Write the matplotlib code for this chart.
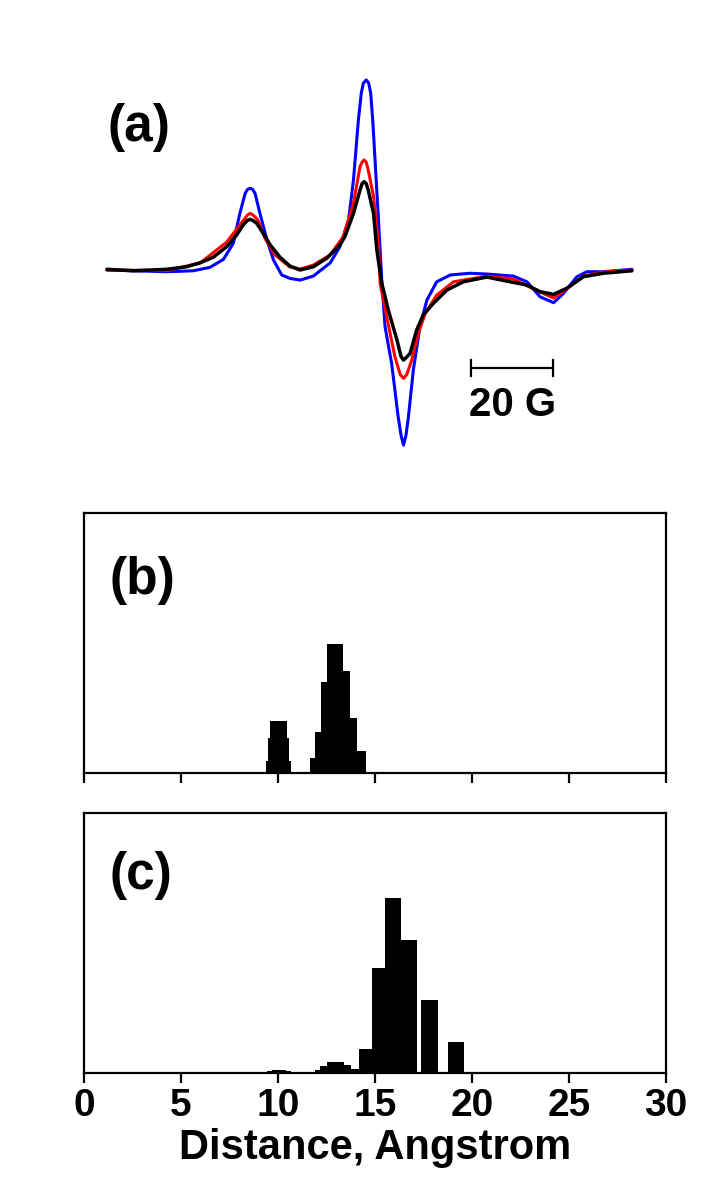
import numpy as np
import matplotlib
matplotlib.use("Agg")
import matplotlib.pyplot as plt

plt.rcParams['font.family'] = ['Liberation Sans', 'DejaVu Sans']
plt.rcParams['font.weight'] = 'bold'

# (a) EPR spectra: field offset (G) and normalised amplitude
field_blue = [0, 14.6, 21.0, 25.1, 28.4, 30.8, 32.4, 33.7, 34.3, 34.9, 35.5, 36.1, 37.3, 39.0, 40.6,
              42.6, 44.6, 47.1, 50.3, 54.4, 56.8, 58.9, 60.1, 61.3, 62.0, 62.5, 63.2, 63.8, 64.3,
              64.8, 65.5, 66.2, 67.0, 67.8, 69.4, 71.0, 71.7, 72.3, 72.9, 73.5, 74.7, 76.3, 78.0,
              80.4, 83.7, 88.5, 92.6, 99.1, 102.4, 105.6, 108.9, 111.3, 114.6, 117.0, 121.0, 128.0]
amp_blue = [0, -0.009, -0.004, 0.014, 0.056, 0.141, 0.298, 0.404, 0.425, 0.430, 0.425, 0.404, 0.298,
            0.158, 0.053, -0.026, -0.044, -0.053, -0.032, 0.037, 0.123, 0.263, 0.474, 0.789, 0.93,
            0.983, 1.0, 0.985, 0.93, 0.789, 0.526, 0.263, -0.053, -0.298, -0.491, -0.772, -0.87,
            -0.921, -0.87, -0.772, -0.526, -0.298, -0.158, -0.062, -0.026, -0.017, -0.021, -0.032,
            -0.062, -0.141, -0.172, -0.123, -0.035, -0.009, -0.009, 0.004]

field_red = [0, 14.6, 22.7, 29.2, 32.4, 34.3, 34.9, 35.6, 36.8, 38.5, 41.0, 44.6, 47.1, 50.3, 54.4,
             57.6, 60.1, 61.7, 62.2, 62.7, 63.2, 63.7, 65.0, 66.2, 66.6, 68.2, 70.2, 71.5, 72.3,
             73.1, 74.3, 75.9, 77.6, 80.4, 84.5, 92.6, 99.0, 105.6, 108.9, 112.1, 116.2, 121.0, 128.0]
amp_red = [0, -0.003, 0.037, 0.147, 0.237, 0.29, 0.298, 0.29, 0.263, 0.168, 0.079, 0.016, 0.005, 0.026,
           0.079, 0.175, 0.351, 0.544, 0.568, 0.579, 0.568, 0.526, 0.386, 0.141, -0.070, -0.246,
           -0.456, -0.55, -0.570, -0.55, -0.474, -0.333, -0.228, -0.132, -0.062, -0.032, -0.047,
           -0.116, -0.147, -0.100, -0.032, -0.011, 0.0]

field_black = [0, 6.5, 14.6, 19.4, 22.7, 25.9, 29.2, 31.6, 33.2, 34.2, 34.9, 35.6, 36.5, 38.1, 39.8,
               42.2, 44.6, 47.1, 50.3, 53.6, 56.8, 58.0, 60.1, 61.7, 62.2, 62.7, 63.2, 63.7, 65.0,
               65.8, 67.0, 68.6, 70.7, 71.7, 72.3, 72.9, 73.9, 75.5, 77.1, 79.6, 82.9, 86.9, 92.6,
               98.3, 102.4, 105.6, 108.9, 112.1, 116.2, 121.0, 128.0]
amp_black = [0.004, -0.004, 0.004, 0.017, 0.038, 0.067, 0.123, 0.184, 0.237, 0.26, 0.267, 0.26, 0.246,
             0.193, 0.132, 0.067, 0.021, 0.0, 0.017, 0.062, 0.132, 0.175, 0.298, 0.421, 0.455, 0.465,
             0.455, 0.421, 0.298, 0.105, -0.070, -0.211, -0.368, -0.455, -0.474, -0.462, -0.439,
             -0.316, -0.237, -0.175, -0.105, -0.062, -0.037, -0.062, -0.079, -0.114, -0.128, -0.096,
             -0.035, -0.017, -0.004]

# (b) distance distribution: bin edges (Angstrom) and relative populations
edges_b = [9.36, 9.47, 9.58, 10.45, 10.57, 10.69, 11.64, 11.92, 12.21, 12.50, 13.36, 13.71, 14.07, 14.55]
pop_b = [0.095, 0.268, 0.40, 0.268, 0.095, 0.0, 0.113, 0.32, 0.706, 1.0, 0.789, 0.428, 0.170]

# (c) distance distribution
edges_c = [9.45, 9.70, 10.40, 10.65, 11.0, 11.92, 12.19, 12.54, 13.40, 13.75, 14.20, 14.82, 15.51,
           16.34, 17.18, 17.37, 18.23, 18.75, 19.59]
pop_c = [0.0095, 0.019, 0.0095, 0.0, 0.004, 0.015, 0.038, 0.061, 0.044, 0.023, 0.139, 0.597, 1.0,
         0.760, 0.0, 0.414, 0.0, 0.177]

W, H = 720, 1197
fig = plt.figure(figsize=(W / 100, H / 100), dpi=100)

def box(left, top, right, bottom):
    return [left / W, 1 - bottom / H, (right - left) / W, (bottom - top) / H]

# --- (a) spectra ---
ax_a = fig.add_axes(box(84, 40, 666, 480))
line_kw = dict(solid_joinstyle='round', solid_capstyle='round')
ax_a.plot(field_blue, amp_blue, color='#0000ff', lw=2.2, **line_kw)
ax_a.plot(field_red, amp_red, color='#ff0000', lw=2.2, **line_kw)
ax_a.plot(field_black, amp_black, color='black', lw=2.5, **line_kw)
ax_a.set_xlim(-5.6, 136.3)
ax_a.set_ylim(-1.105, 1.2105)
ax_a.axis('off')
# 20 G scale bar
ax_a.plot([88.8, 108.8], [-0.516, -0.516], color='black', lw=1.6)
for xb in (88.8, 108.8):
    ax_a.plot([xb, xb], [-0.556, -0.476], color='black', lw=1.6)
ax_a.text(98.8, -0.71, '20 G', ha='center', va='center', fontsize=29, fontweight='bold')
ax_a.text(0.04, 0.80, '(a)', transform=ax_a.transAxes, fontsize=37, fontweight='bold',
          ha='left', va='center')

# --- (b) and (c) histograms ---
ax_b = fig.add_axes(box(84, 513, 666, 773))
ax_c = fig.add_axes(box(84, 813, 666, 1073))

ax_b.stairs(pop_b, edges_b, fill=True, color='black', lw=0)
ax_c.stairs(pop_c, edges_c, fill=True, color='black', lw=0)
ax_b.set_ylim(0, 2.01)
ax_c.set_ylim(0, 1.483)

for ax, lab, ly in ((ax_b, '(b)', 0.74), (ax_c, '(c)', 0.76)):
    ax.set_xlim(0, 30)
    ax.set_xticks(np.arange(0, 31, 5))
    ax.set_yticks([])
    for s in ax.spines.values():
        s.set_linewidth(1.6)
    ax.tick_params(axis='x', direction='out', length=7, width=1.6, labelsize=28, pad=4)
    ax.text(0.043, ly, lab, transform=ax.transAxes, fontsize=37, fontweight='bold',
            ha='left', va='center')

ax_b.set_xticklabels([])
ax_c.set_xlabel('Distance, Angstrom', fontsize=30, fontweight='bold', labelpad=3)

fig.savefig('out.png', dpi=100)
